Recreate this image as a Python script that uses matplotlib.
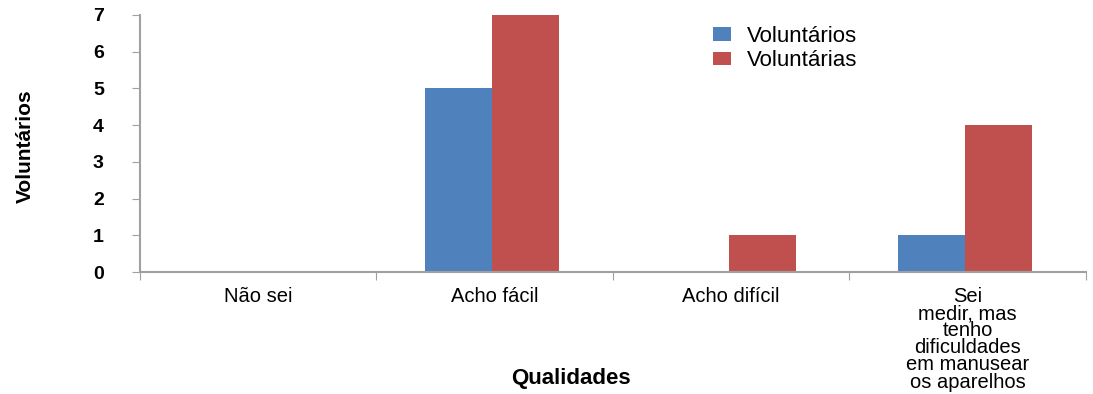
import matplotlib
matplotlib.use('Agg')
import matplotlib.pyplot as plt
import numpy as np

categorias = ['Não sei', 'Acho fácil', 'Acho difícil',
              'Sei\nmedir, mas\ntenho\ndificuldades\nem manusear\nos aparelhos']
voluntarios = [0, 5, 0, 1]
voluntarias = [0, 7, 1, 4]

azul = '#4F81BD'
vermelho = '#C0504D'

plt.rcParams['font.family'] = ['Liberation Sans', 'DejaVu Sans']

fig = plt.figure(figsize=(10.93, 3.94), dpi=100)
ax = fig.add_axes([0.128, 0.3096, 0.8656, 0.6524])

x = np.arange(len(categorias))
w = 0.283
ax.bar(x - w / 2 - 0.01, voluntarios, w, color=azul, label='Voluntários')
ax.bar(x + w / 2 - 0.01, voluntarias, w, color=vermelho, label='Voluntárias')

ax.set_xlim(-0.5, len(categorias) - 0.5)
ax.set_ylim(0, 7)
ax.set_yticks(range(0, 8))
ax.set_yticklabels([str(v) for v in range(0, 8)], fontsize=14, fontweight='bold')

# ticks on category boundaries, labels in the middle
ax.set_xticks(np.arange(len(categorias) + 1) - 0.5)
ax.set_xticklabels([])
ax.set_xticks(x, minor=True)
ax.set_xticklabels(categorias, minor=True, fontsize=14.5, linespacing=0.87, va='top')
ax.tick_params(axis='x', which='minor', length=0, pad=11)
ax.tick_params(axis='x', which='major', length=6, color='#A0A0A0')
ax.tick_params(axis='y', length=6, color='#A0A0A0', pad=20)

for s in ['top', 'right']:
    ax.spines[s].set_visible(False)
for s in ['left', 'bottom']:
    ax.spines[s].set_color('#A0A0A0')
    ax.spines[s].set_linewidth(1.5)

fig.text(0.522, 0.012, 'Qualidades', ha='center', va='bottom',
         fontsize=16, fontweight='bold')
fig.text(0.023, 0.63, 'Voluntários', ha='center', va='center', rotation=90,
         fontsize=15, fontweight='bold',
         family=['Liberation Sans Narrow', 'Liberation Sans'])

ax.legend(loc='upper left', bbox_to_anchor=(0.585, 1.035), frameon=False,
          fontsize=16, handlelength=0.8, handleheight=0.55, handletextpad=0.7,
          labelspacing=0.15)

fig.savefig('out.png', dpi=100)
